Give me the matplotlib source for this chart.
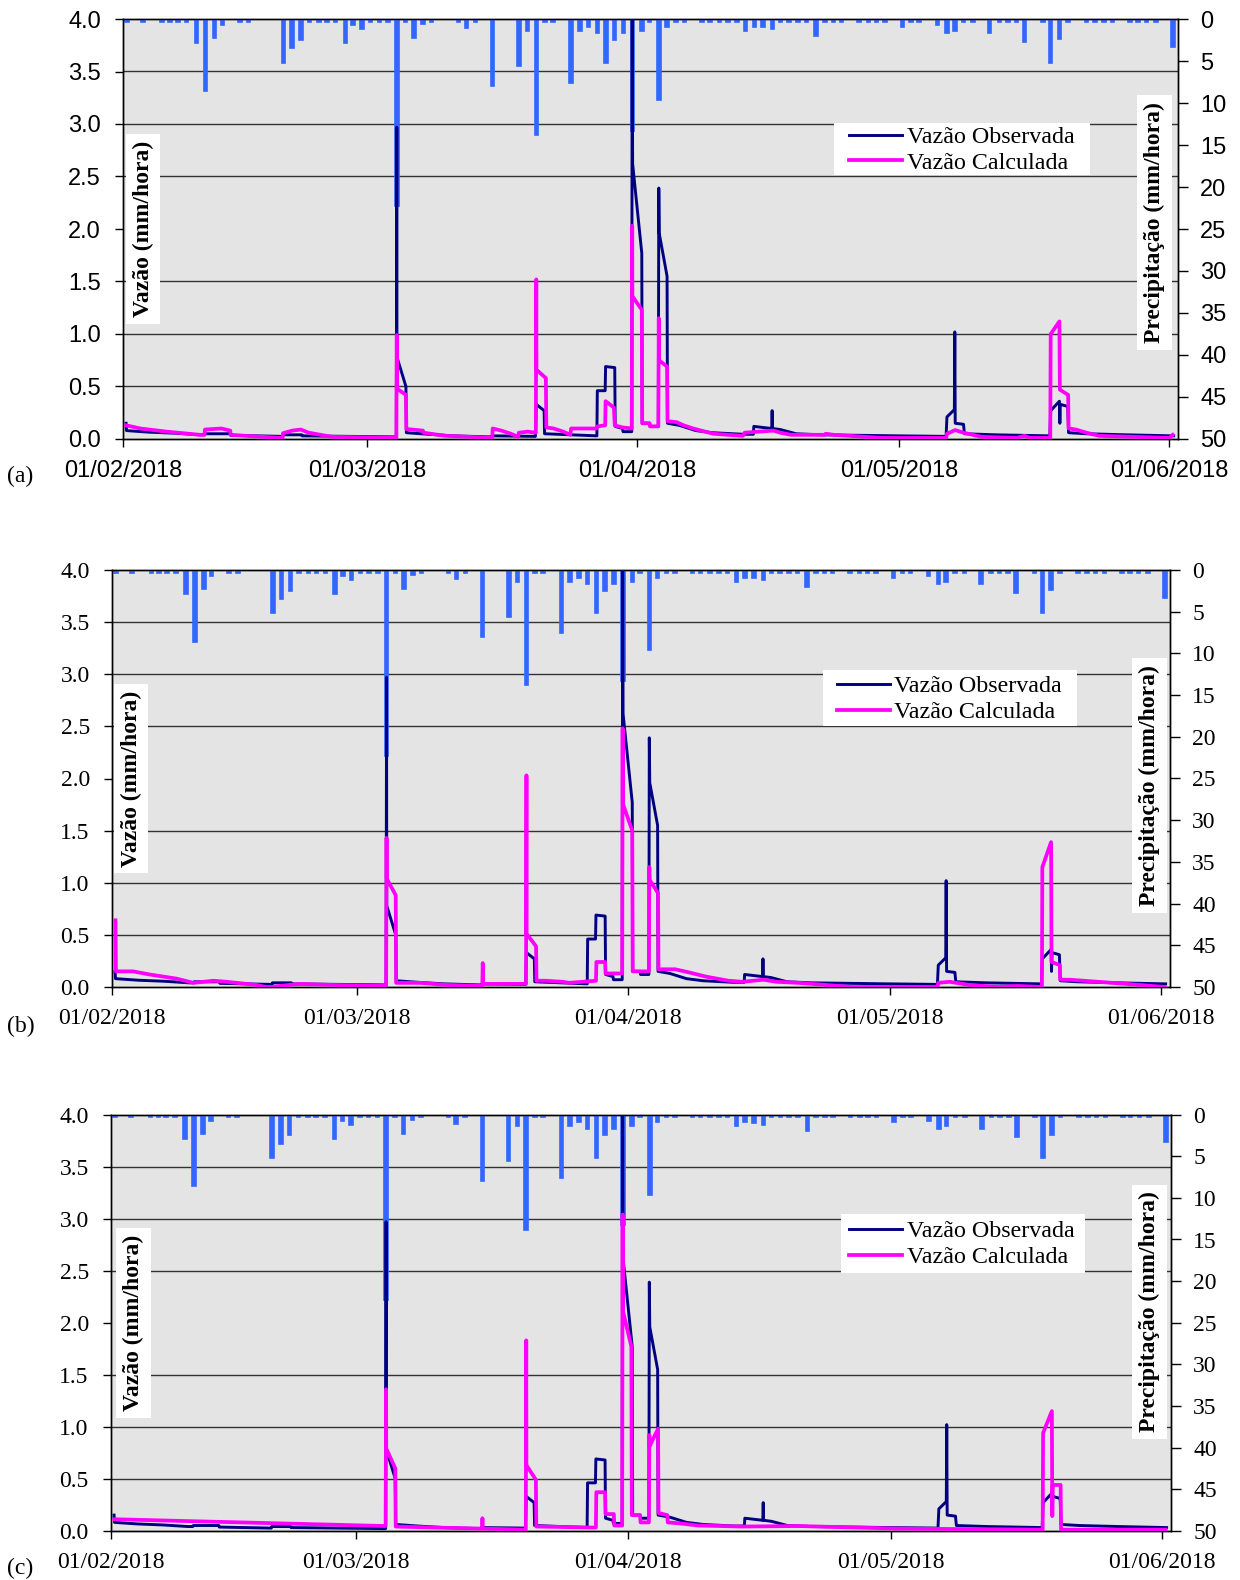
import numpy as np
import pandas as pd
import matplotlib
matplotlib.use('Agg')
import matplotlib.pyplot as plt
import matplotlib.dates as mdates
from matplotlib.lines import Line2D
from matplotlib.patches import Rectangle

inicio = pd.Timestamp('2018-02-01')

# precipitação horária (dias desde 01/02/2018, mm/hora)
chuva_dia = [0.46, 2.3, 4.5, 5.4, 6.3, 7.3, 8.45, 9.48, 10.5, 11.4, 13.4, 14.4,
             18.4, 19.4, 20.4, 21.4, 22.5, 23.4, 24.4, 25.5, 26.4, 27.4, 28.4,
             29.4, 30.4, 31.4, 32.4, 33.4, 34.4, 35.4, 38.5, 39.4, 40.4, 42.4,
             45.4, 46.4, 47.4, 48.4, 49.3, 51.4, 52.4, 53.4, 54.4, 55.4, 56.4,
             57.4, 58.45, 59.5, 60.4, 61.5, 62.4, 63.4, 64.4, 66.4, 67.3, 68.4,
             69.4, 70.4, 71.4, 72.4, 73.4, 74.5, 75.4, 76.4, 77.4, 78.4, 79.5,
             80.5, 81.5, 82.4, 84.4, 85.5, 86.4, 87.4, 89.4, 90.4, 91.3, 93.4,
             94.5, 95.4, 96.4, 97.5, 99.4, 100.5, 101.5, 102.5, 103.4, 105.5,
             106.4, 107.4, 108.4, 110.5, 111.5, 112.5, 113.5, 115.5, 116.4,
             117.4, 118.5, 120.45]
chuva_mm = [0.3, 0.3, 0.3, 0.3, 0.3, 0.3, 2.9, 8.6, 2.3, 0.7, 0.3, 0.3,
            5.2, 3.5, 2.5, 0.3, 0.3, 0.3, 0.3, 2.9, 0.7, 1.2, 0.3,
            0.3, 0.3, 22.3, 0.3, 2.3, 0.6, 0.3, 0.3, 1.1, 0.3, 8.0,
            5.6, 1.4, 13.8, 0.3, 0.3, 7.6, 1.4, 0.9, 1.7, 5.2, 2.5,
            1.7, 13.3, 1.4, 0.3, 9.6, 0.9, 0.3, 0.3, 0.3, 0.3, 0.3,
            0.3, 0.3, 1.4, 0.9, 1.0, 1.2, 0.3, 0.3, 0.3, 0.3, 2.0,
            0.3, 0.3, 0.3, 0.3, 0.3, 0.3, 0.3, 0.9, 0.3, 0.3, 0.7,
            1.7, 1.4, 0.3, 0.3, 1.7, 0.3, 0.3, 0.3, 2.7, 0.3,
            5.2, 2.4, 0.3, 0.3, 0.3, 0.3, 0.3, 0.3, 0.3,
            0.3, 0.3, 3.3]

# vazão observada (mm/hora)
obs_dia = [0.35, 0.40, 3.0, 6.0, 8.8, 9.35, 9.4, 12.3, 12.35, 18.3, 18.35, 20.5,
           20.55, 26.0, 31.35, 31.4, 31.42, 32.45, 32.5, 35.0, 38.0, 42.1, 42.4,
           47.3, 47.4, 48.3, 48.35, 51.4, 54.35, 54.4, 55.3, 55.35, 56.4, 56.45,
           57.3, 57.35, 58.35, 58.4, 58.45, 59.5, 59.55, 60.4, 60.45, 61.4,
           61.45, 61.5, 62.4, 62.45, 63.8, 65.7, 67.6, 71.1, 72.3, 72.35, 74.4,
           74.45, 74.5, 75.4, 77.2, 80.0, 89.0, 94.4, 94.5, 95.35, 95.4, 95.45,
           96.4, 96.5, 100.0, 106.3, 106.4, 107.4, 107.45, 107.5, 108.35,
           108.45, 110.5, 115.0, 120.5]
obs_q = [0.15, 0.08, 0.065, 0.055, 0.04, 0.04, 0.05, 0.05, 0.035, 0.025, 0.04, 0.04,
         0.03, 0.025, 0.02, 2.97, 0.78, 0.5, 0.06, 0.045, 0.03, 0.02, 0.03,
         0.025, 0.33, 0.27, 0.05, 0.04, 0.03, 0.46, 0.46, 0.69, 0.68, 0.12,
         0.1, 0.07, 0.07, 4.3, 2.62, 1.77, 0.15, 0.15, 0.12, 0.12,
         2.39, 1.96, 1.55, 0.15, 0.13, 0.08, 0.06, 0.045, 0.045, 0.12, 0.1,
         0.27, 0.1, 0.09, 0.05, 0.04, 0.03, 0.025, 0.21, 0.28, 1.02, 0.15,
         0.14, 0.05, 0.04, 0.03, 0.27, 0.36, 0.15, 0.33, 0.31,
         0.06, 0.05, 0.04, 0.03]

# vazão calculada (a)
calc_a_dia = [0.35, 2.0, 5.0, 8.8, 9.35, 9.4, 11.3, 12.3, 12.35, 15.0, 18.3, 18.35,
              19.4, 20.4, 21.3, 24.0, 28.0, 31.35, 31.4, 31.42, 32.45, 32.5, 34.4,
              34.45, 37.0, 42.35, 42.4, 43.4, 44.5, 45.3, 45.4, 46.4, 47.35, 47.4,
              47.42, 48.5, 48.55, 49.4, 50.5, 51.3, 51.4, 54.3, 54.4, 55.3, 55.35,
              56.3, 56.4, 57.3, 58.35, 58.4, 58.42, 59.5, 59.55, 60.4, 60.45, 61.4,
              61.45, 61.47, 62.4, 62.45, 63.5, 64.3, 65.4, 67.7, 71.1, 71.3, 74.6,
              75.4, 76.6, 80.5, 80.6, 81.5, 87.0, 94.4, 94.5, 95.45, 96.4, 98.5,
              102.5, 103.4, 104.0, 106.35, 106.4, 107.4, 107.45, 108.4, 108.45,
              109.3, 110.5, 112.0, 120.0, 120.4]
calc_a_q = [0.13, 0.1, 0.07, 0.04, 0.04, 0.09, 0.1, 0.08, 0.04, 0.025, 0.01, 0.055,
            0.08, 0.09, 0.06, 0.02, 0.015, 0.01, 0.99, 0.48, 0.42, 0.095, 0.08,
            0.06, 0.03, 0.01, 0.1, 0.08, 0.05, 0.02, 0.06, 0.07, 0.06, 1.52,
            0.66, 0.58, 0.11, 0.1, 0.07, 0.04, 0.1, 0.1, 0.12, 0.13, 0.36,
            0.3, 0.13, 0.11, 0.1, 2.03, 1.36, 1.23, 0.15, 0.15, 0.12, 0.12,
            1.15, 0.75, 0.69, 0.17, 0.16, 0.13, 0.1, 0.05, 0.03, 0.06, 0.08,
            0.06, 0.04, 0.04, 0.05, 0.04, 0.01, 0.01, 0.05, 0.085, 0.06, 0.02,
            0.01, 0.03, 0.01, 0.01, 1.0, 1.12, 0.47, 0.42, 0.1,
            0.09, 0.06, 0.03, 0.01, 0.04]

# vazão calculada (b)
calc_b_dia = [0.4, 0.45, 2.4, 4.3, 7.4, 9.3, 11.6, 13.1, 16.5, 17.6, 18.3, 20.3,
              21.5, 25.0, 31.35, 31.4, 31.42, 32.45, 32.5, 35.2, 38.2, 42.35, 42.4,
              42.45, 47.35, 47.4, 47.42, 48.5, 48.55, 49.6, 51.5, 52.3, 53.8, 55.35,
              55.4, 56.4, 56.45, 58.35, 58.4, 58.42, 59.5, 59.55, 61.4, 61.45,
              61.47, 62.45, 62.5, 64.4, 66.0, 67.9, 70.5, 72.1, 74.5, 76.0, 78.5,
              84.6, 94.4, 94.5, 95.8, 98.0, 101.4, 103.6, 106.35, 106.4, 107.4,
              107.45, 108.4, 108.45, 109.5, 116.0, 120.4]
calc_b_q = [0.64, 0.15, 0.15, 0.12, 0.08, 0.04, 0.06, 0.05, 0.02, 0.0, 0.0, 0.02,
            0.03, 0.02, 0.01, 1.43, 1.04, 0.88, 0.04, 0.04, 0.02, 0.01, 0.23,
            0.03, 0.03, 2.03, 0.51, 0.39, 0.06, 0.06, 0.05, 0.04, 0.05, 0.06,
            0.24, 0.24, 0.13, 0.13, 2.48, 1.76, 1.5, 0.15, 0.15, 1.15,
            1.03, 0.9, 0.17, 0.17, 0.14, 0.1, 0.06, 0.05, 0.07, 0.05, 0.04,
            0.0, 0.0, 0.04, 0.05, 0.02, 0.0, 0.01, 0.0, 1.15, 1.39,
            0.24, 0.21, 0.07, 0.07, 0.03, 0.0]

# vazão calculada (c)
calc_c_dia = [0.4, 31.35, 31.4, 31.42, 32.45, 32.5, 37.0, 42.35, 42.4, 42.45, 47.35,
              47.4, 47.42, 48.5, 48.55, 55.35, 55.4, 56.4, 56.45, 57.4, 57.45, 58.35,
              58.4, 58.42, 59.4, 59.45, 60.4, 60.45, 61.4, 61.45, 61.47, 62.45,
              62.5, 63.5, 63.55, 65.0, 67.0, 72.0, 78.5, 90.0, 106.35, 106.4,
              107.4, 107.45, 107.5, 108.4, 108.45, 120.4]
calc_c_q = [0.11, 0.045, 1.36, 0.79, 0.6, 0.04, 0.03, 0.02, 0.12, 0.02, 0.01,
            1.83, 0.63, 0.49, 0.04, 0.03, 0.37, 0.37, 0.16, 0.16, 0.05, 0.05,
            3.04, 2.12, 1.77, 0.15, 0.15, 0.08, 0.08, 0.92, 0.81, 0.98,
            0.17, 0.15, 0.08, 0.07, 0.05, 0.04, 0.045, 0.02, 0.01, 0.94,
            1.15, 0.14, 0.44, 0.44, 0.01, 0.01]


def datas(dias):
    return mdates.date2num(inicio + pd.to_timedelta(np.array(dias), unit='D'))


cinza = '#e4e4e4'
azul = '#3366ff'
marinho = '#000080'
magenta = '#ff00ff'
serif = 'Liberation Serif'
sans = 'Liberation Sans'

fig = plt.figure(figsize=(12.4, 15.8), dpi=100)


def painel(pos, calc_dia, calc_q, fonte, caixa_leg, leg_xy, lab_esq, lab_dir,
           letra, letra_y):
    ax = fig.add_axes(pos)
    ax2 = ax.twinx()
    ax.set_zorder(ax2.get_zorder() + 1)
    ax.patch.set_visible(False)
    ax2.patch.set_visible(True)
    ax2.patch.set_facecolor(cinza)

    # chuva no eixo secundario (invertido)
    ax2.bar(datas(chuva_dia), chuva_mm, width=0.4, color=azul,
            edgecolor=azul, linewidth=1.2, zorder=3)
    ax2.set_ylim(50, 0)
    ax2.set_yticks(np.arange(0, 51, 5))
    # linhas de grade nas posicoes de 0.5 em 0.5 da vazao
    ax2.set_yticks(50 - np.arange(0.5, 4.0, 0.5) * 12.5, minor=True)
    ax2.set_axisbelow(True)
    ax2.yaxis.grid(True, which='minor', color='#333333', lw=1.0)
    ax2.tick_params(axis='y', which='minor', length=0)
    ax2.tick_params(axis='y', which='major', length=7, width=1, pad=9,
                    labelsize=17, labelfontfamily=fonte)

    ax.plot(datas(obs_dia), obs_q, color=marinho, lw=2.1, zorder=3)
    ax.plot(datas(calc_dia), calc_q, color=magenta, lw=2.7, zorder=4)
    ax.set_ylim(0, 4)
    ax.set_yticks(np.arange(0, 4.01, 0.5))
    ax.yaxis.set_major_formatter(matplotlib.ticker.FormatStrFormatter('%.1f'))
    ax.set_xlim(datas([0])[0], datas([121])[0])
    ax.xaxis.set_major_locator(mdates.MonthLocator())
    ax.xaxis.set_major_formatter(mdates.DateFormatter('%d/%m/%Y'))
    ax.tick_params(axis='both', length=6, width=1, labelsize=17,
                   labelfontfamily=fonte)
    ax.tick_params(axis='y', pad=10)
    ax.tick_params(axis='x', pad=9)
    for a in (ax, ax2):
        for s in a.spines.values():
            s.set_color('black')
            s.set_linewidth(1)

    caixa = dict(facecolor='white', edgecolor='none', pad=5)
    ax.text(lab_esq, 0.5, 'Vazão (mm/hora)', transform=ax.transAxes,
            rotation=90, ha='center', va='center', fontsize=17,
            fontweight='bold', family=serif, bbox=caixa, zorder=6)
    ax.text(lab_dir[0], lab_dir[1], 'Precipitação (mm/hora)',
            transform=ax.transAxes, rotation=90, ha='center', va='center',
            fontsize=17, fontweight='bold', family=serif, bbox=caixa, zorder=6)

    # fundo branco da legenda
    ax.add_patch(Rectangle(caixa_leg[:2], caixa_leg[2], caixa_leg[3],
                           transform=ax.transAxes, facecolor='white',
                           edgecolor='none', zorder=6.5))
    alcas = [Line2D([], [], color=marinho, lw=2.1),
             Line2D([], [], color=magenta, lw=2.7)]
    leg = ax.legend(alcas, ['Vazão Observada', 'Vazão Calculada'],
                    loc='upper left', bbox_to_anchor=leg_xy, frameon=False,
                    prop={'family': serif, 'size': 17.3},
                    handlelength=2.2, handletextpad=0.2, borderpad=0,
                    labelspacing=0.17, borderaxespad=0)
    leg.set_zorder(7)

    fig.text(0.006, letra_y, letra, fontsize=17, family=serif, va='center')
    return ax


W, H = 1240, 1580
painel([123 / W, 1 - 439 / H, 1055 / W, 420 / H], calc_a_dia, calc_a_q, sans,
       (0.674, 0.6286, 0.2427, 0.1238), (0.688, 0.745),
       0.019, (0.978, 0.516), '(a)', 1 - 476 / H)
painel([112 / W, 1 - 987 / H, 1058 / W, 417 / H], calc_b_dia, calc_b_q, serif,
       (0.6717, 0.6259, 0.2401, 0.1343), (0.685, 0.747),
       0.018, (0.981, 0.483), '(b)', 1 - 1026 / H)
painel([111 / W, 1 - 1530.7 / H, 1060 / W, 416 / H], calc_c_dia, calc_c_q, serif,
       (0.6884, 0.620, 0.2305, 0.141), (0.6965, 0.746),
       0.021, (0.980, 0.526), '(c)', 1 - 1568 / H)

fig.savefig('out.png', dpi=100)
